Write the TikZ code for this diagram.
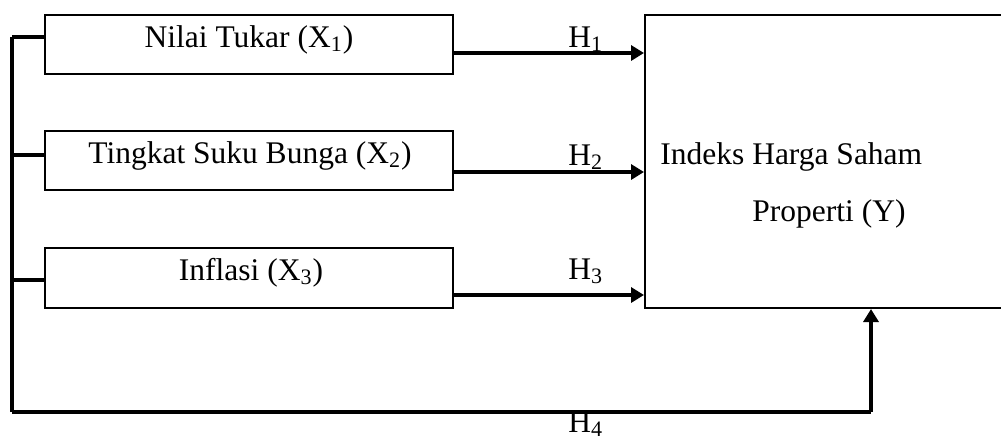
\documentclass[tikz,border=0pt]{standalone}
\usepackage{fontspec}
\setmainfont{Liberation Serif}
\usetikzlibrary{arrows.meta}
\begin{document}
\begin{tikzpicture}[x=0.5pt,y=-0.5pt,
  box/.style={draw=black,line width=1pt,inner sep=0pt},
  lbl/.style={inner sep=0pt,font=\fontsize{15.75}{19}\selectfont},
  trunk/.style={line width=1.6pt},
  arr/.style={line width=1.8pt,-{Triangle[length=6.5pt,width=7.5pt]}}]
\useasboundingbox (0,0) rectangle (1001,439);
\clip (0,0) rectangle (1001,439);
% boxes
\node[box,minimum width=204pt,minimum height=29.5pt] (x1) at (249,44.5) {};
\node[box,minimum width=204pt,minimum height=29.5pt] (x2) at (249,160.5) {};
\node[box,minimum width=204pt,minimum height=30pt] (x3) at (249,278) {};
\node[box,minimum width=182.5pt,minimum height=146.5pt] (y) at (827.5,161.5) {};
% texts
\node[lbl,anchor=base] (t1) at (249,47) {Nilai Tukar (X\textsubscript{1})};
\node[lbl,anchor=base] (t2) at (250,163) {Tingkat Suku Bunga (X\textsubscript{2})};
\node[lbl,anchor=base] (t3) at (251,280) {Inflasi (X\textsubscript{3})};
\node[lbl,anchor=base west] (ty1) at (660,164) {Indeks Harga Saham};
\node[lbl,anchor=base west] (ty2) at (752,221) {Properti (Y)};
\node[lbl,anchor=base west] (h1) at (568,47) {H\textsubscript{1}};
\node[lbl,anchor=base west] (h2) at (568,165) {H\textsubscript{2}};
\node[lbl,anchor=base west] (h3) at (568,279) {H\textsubscript{3}};
\node[lbl,anchor=base west] (h4) at (568,432) {H\textsubscript{4}};
% arrows to Y
\coordinate (a1) at ([yshift=-4.25pt]x1.east);
\coordinate (a2) at ([yshift=-5.75pt]x2.east);
\coordinate (a3) at ([yshift=-8.5pt]x3.east);
\draw[arr] (a1) -- (a1 -| y.west);
\draw[arr] (a2) -- (a2 -| y.west);
\draw[arr] (a3) -- (a3 -| y.west);
% left trunk
\coordinate (s1) at (12,37);
\coordinate (s2) at (12,155);
\coordinate (s3) at (12,280);
\coordinate (b0) at (12,412);
\coordinate (b1) at (871,412);
\draw[trunk] (s1) -- (b0);
\draw[trunk] (s1) -- (s1 -| x1.west);
\draw[trunk] (s2) -- (s2 -| x2.west);
\draw[trunk] (s3) -- (s3 -| x3.west);
\draw[trunk] (b0) -- (b1);
\draw[arr] (b1) -- (b1 |- y.south);
\end{tikzpicture}
\end{document}
